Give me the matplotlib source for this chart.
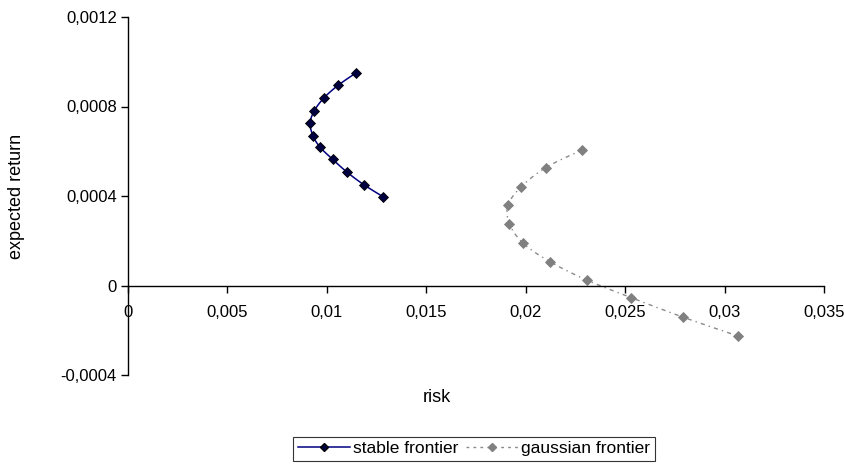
import numpy as np
import matplotlib
matplotlib.use('Agg')
import matplotlib.pyplot as plt
from matplotlib.ticker import FuncFormatter

plt.rcParams['font.family'] = ['Liberation Sans', 'DejaVu Sans']

# stable frontier (risk, expected return)
stable_risk = [0.01148, 0.01057, 0.00985, 0.00937, 0.00916, 0.00930,
               0.00965, 0.01029, 0.01101, 0.01185, 0.01284]
stable_ret = [0.000951, 0.000895, 0.000838, 0.000781, 0.000726, 0.000670,
              0.000619, 0.000564, 0.000507, 0.000451, 0.000396]

# gaussian frontier
gauss_risk = [0.02284, 0.02101, 0.01974, 0.01911, 0.01918, 0.01987,
              0.02121, 0.02306, 0.02531, 0.02793, 0.03068]
gauss_ret = [0.000606, 0.000527, 0.000438, 0.000358, 0.000276, 0.000189,
             0.000107, 0.0000246, -0.0000545, -0.000142, -0.000226]

x_ticks = [0, 0.005, 0.01, 0.015, 0.02, 0.025, 0.03, 0.035]
y_ticks = [-0.0004, 0, 0.0004, 0.0008, 0.0012]


def smooth(x, y, n=12):
    # Catmull-Rom through the points, like Excel's smoothed lines
    p = np.column_stack([x, y])
    p = np.vstack([p[0], p, p[-1]])
    out = []
    t = np.linspace(0, 1, n, endpoint=False)[:, None]
    for i in range(1, len(p) - 2):
        p0, p1, p2, p3 = p[i - 1], p[i], p[i + 1], p[i + 2]
        seg = 0.5 * ((2 * p1) + (-p0 + p2) * t + (2 * p0 - 5 * p1 + 4 * p2 - p3) * t ** 2
                     + (-p0 + 3 * p1 - 3 * p2 + p3) * t ** 3)
        out.append(seg)
    out.append(p[-2][None, :])
    out = np.vstack(out)
    return out[:, 0], out[:, 1]


fig = plt.figure(figsize=(8.44, 4.67), dpi=100)
ax = fig.add_axes([128 / 844, 1 - 375 / 467, (824 - 128) / 844, (375 - 17) / 467])

sx, sy = smooth(stable_risk, stable_ret)
ax.plot(sx, sy, color='#000080', lw=1.1)
ax.plot(stable_risk, stable_ret, ls='none', marker='D', ms=4.6,
        mfc='#000040', mec='black', mew=0.6)

gx, gy = smooth(gauss_risk, gauss_ret)
ax.plot(gx, gy, color='#8a8a8a', lw=1.0, dashes=(3, 3, 1, 3))
ax.plot(gauss_risk, gauss_ret, ls='none', marker='D', ms=4.6,
        mfc='#808080', mec='#808080', mew=0.6)

# legend proxies
h1, = ax.plot([], [], color='#000080', lw=1.1, marker='D', ms=4,
              mfc='#000040', mec='black')
h2, = ax.plot([], [], color='#8a8a8a', lw=1.0, dashes=(2, 3), marker='D', ms=4,
              mfc='#808080', mec='#808080')

ax.set_xlim(0, 0.035)
ax.set_ylim(-0.0004, 0.0012)
ax.set_xticks(x_ticks)
ax.set_yticks(y_ticks)

fmt = FuncFormatter(lambda v, p: ('%g' % v).replace('.', ','))
ax.xaxis.set_major_formatter(fmt)
ax.yaxis.set_major_formatter(fmt)

ax.spines['top'].set_visible(False)
ax.spines['right'].set_visible(False)
ax.spines['bottom'].set_position(('data', 0))
ax.spines['left'].set_linewidth(1.0)
ax.spines['bottom'].set_linewidth(1.0)
ax.tick_params(axis='both', direction='out', length=5, width=1, labelsize=12, colors='black')
ax.tick_params(axis='x', pad=9)
ax.tick_params(axis='y', pad=3)

fig.text(437 / 844, 1 - 398 / 467, 'risk', ha='center', va='center', fontsize=13)
fig.text(17 / 844, 1 - 196 / 467, 'expected return', ha='center', va='center',
         rotation=90, fontsize=13)

leg = fig.legend([h1, h2], ['stable frontier', 'gaussian frontier'],
                 loc='upper center', bbox_to_anchor=(474 / 844, 1 - 437 / 467), ncol=2,
                 frameon=True, fancybox=False, fontsize=12.5, handlelength=3.0,
                 handletextpad=0.2, columnspacing=0.4, borderpad=0.25,
                 borderaxespad=0)
leg.get_frame().set_edgecolor('black')
leg.get_frame().set_linewidth(0.8)

fig.savefig('out.png', dpi=100)
